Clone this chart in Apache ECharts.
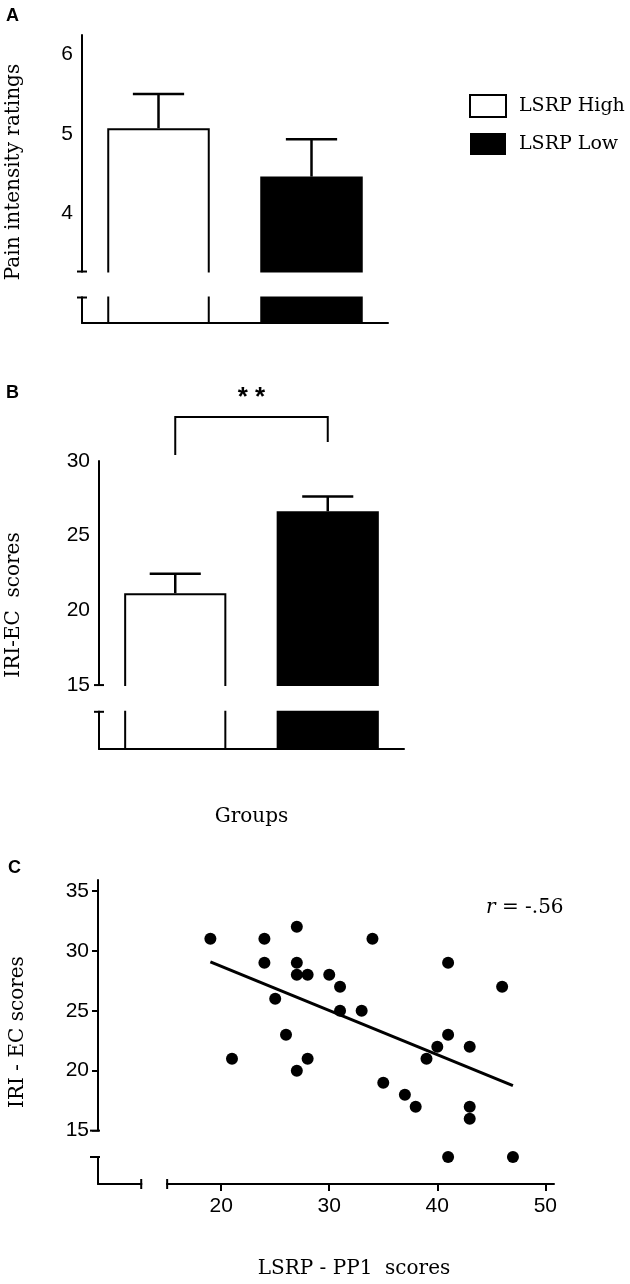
<!DOCTYPE html>
<html>
<head>
<meta charset="utf-8">
<script src="https://cdn.jsdelivr.net/npm/echarts@6/dist/echarts.min.js"></script>
<style>
  html, body { margin: 0; padding: 0; background: #fff; }
  #chart { width: 630px; height: 1284px; }
</style>
</head>
<body>
<div id="chart"></div>
<script>
// ---------------- data ----------------
const groups = ['LSRP High', 'LSRP Low'];

// Panel A: pain intensity ratings (mean, SEM)
const painMean = [5.07, 4.46];
const painSem = [0.43, 0.47];
const painTicks = [4, 5, 6];

// Panel B: IRI-EC scores (mean, SEM)
const iriMean = [21.15, 26.63];
const iriSem = [1.30, 1.00];
const iriTicks = [15, 20, 25, 30];

// Panel C: scatter LSRP-PP1 vs IRI-EC
const ppScores = [19, 24, 24, 27, 27, 27, 28, 25, 30, 31, 31, 33, 34, 26, 21, 28, 27, 35, 37, 38, 39, 40, 41, 41, 43, 43, 43, 46, 41, 47];
const ecScores = [31, 31, 29, 32, 29, 28, 28, 26, 28, 27, 25, 25, 31, 23, 21, 21, 20, 19, 18, 17, 21, 22, 29, 23, 22, 17, 16, 27, 12.8, 12.8];
const fitX = [19, 47];
const fitY = [29.08, 18.75];
const corrXTicks = [20, 30, 40, 50];
const corrYTicks = [15, 20, 25, 30, 35];
const corrLabel = '-.56';

// ---------------- layout / style ----------------
const SERIF = '"DejaVu Serif", serif';
const SANS = '"Liberation Sans", Arial, sans-serif';
const gridA = { left: 82, top: 35, width: 306, height: 288 };
const gridB = { left: 99, top: 461, width: 305, height: 288 };
const gridC = { left: 95, top: 880, width: 459, height: 304 };
const axisLine = { show: true, onZero: false, lineStyle: { color: '#000', width: 2 } };
const tickLabel = { color: '#000', fontFamily: SANS, fontSize: 21, margin: 9 };
const nameStyle = { color: '#000', fontFamily: SERIF, fontSize: 20 };

function errRender(params, api) {
  const i = api.value(0), m = api.value(1), e = api.value(2);
  const p0 = api.coord([i, m]);
  const p1 = api.coord([i, m + e]);
  const half = api.size([1, 0])[0] * 0.67 * 0.25;
  const st = { stroke: '#000', lineWidth: 2.5 };
  return {
    type: 'group',
    children: [
      { type: 'line', shape: { x1: p0[0], y1: p0[1], x2: p1[0], y2: p1[1] }, style: st },
      { type: 'line', shape: { x1: p1[0] - half, y1: p1[1], x2: p1[0] + half, y2: p1[1] }, style: st }
    ]
  };
}

function barPair(xi, yi, means) {
  return [
    {
      name: groups[0], type: 'bar', xAxisIndex: xi, yAxisIndex: yi,
      data: [means[0], '-'], barWidth: '67%', barGap: '-100%',
      itemStyle: { color: '#fff', borderColor: '#000', borderWidth: 2 }, z: 3
    },
    {
      name: groups[1], type: 'bar', xAxisIndex: xi, yAxisIndex: yi,
      data: ['-', means[1]], barWidth: '67%', barGap: '-100%',
      itemStyle: { color: '#000' }, z: 3
    }
  ];
}

const chart = echarts.init(document.getElementById('chart'), null, { renderer: 'canvas' });

const option = {
  animation: false,
  backgroundColor: '#fff',
  grid: [gridA, gridB, gridC],
  legend: {
    orient: 'vertical', left: 464, top: 89,
    itemWidth: 36, itemHeight: 22, itemGap: 15,
    icon: 'rect', selectedMode: false,
    textStyle: { color: '#000', fontFamily: SERIF, fontSize: 19, padding: [0, 0, 0, 8] },
    data: [
      { name: groups[0], itemStyle: { color: '#fff', borderColor: '#000', borderWidth: 2 } },
      { name: groups[1], itemStyle: { color: '#000', borderWidth: 0 } }
    ]
  },
  xAxis: [
    {
      gridIndex: 0, type: 'category', data: groups,
      axisLine: axisLine,
      axisTick: { alignWithLabel: true, length: 9, lineStyle: { color: '#000', width: 2 } },
      axisLabel: { show: false }, splitLine: { show: false }
    },
    {
      gridIndex: 1, type: 'category', data: groups,
      axisLine: axisLine,
      axisTick: { alignWithLabel: true, length: 8, lineStyle: { color: '#000', width: 2 } },
      axisLabel: { show: false }, splitLine: { show: false },
      name: 'Groups', nameLocation: 'middle', nameGap: 58, nameTextStyle: nameStyle
    },
    {
      gridIndex: 2, type: 'value', min: 8.6, max: 50.8,
      axisLine: axisLine,
      axisTick: { customValues: corrXTicks, length: 7, lineStyle: { color: '#000', width: 2 } },
      axisLabel: Object.assign({}, tickLabel, { customValues: corrXTicks, margin: 12 }),
      splitLine: { show: false },
      name: 'LSRP - PP1  scores', nameLocation: 'middle', nameGap: 75,
      nameTextStyle: Object.assign({}, nameStyle, { padding: [0, 0, 0, 56] })
    }
  ],
  yAxis: [
    {
      gridIndex: 0, type: 'value', min: 2.617, max: 6.243,
      axisLine: axisLine,
      axisTick: { customValues: painTicks, length: 6, lineStyle: { color: '#000', width: 2 } },
      axisLabel: Object.assign({}, tickLabel, { customValues: painTicks }),
      splitLine: { show: false },
      name: 'Pain intensity ratings', nameLocation: 'middle', nameGap: 58,
      nameTextStyle: Object.assign({}, nameStyle, { padding: [0, 0, 0, 14] })
    },
    {
      gridIndex: 1, type: 'value', min: 10.72, max: 30,
      axisLine: axisLine,
      axisTick: { customValues: iriTicks, length: 6, lineStyle: { color: '#000', width: 2 } },
      axisLabel: Object.assign({}, tickLabel, { customValues: iriTicks }),
      splitLine: { show: false },
      name: 'IRI-EC  scores', nameLocation: 'middle', nameGap: 75, nameTextStyle: nameStyle
    },
    {
      gridIndex: 2, type: 'value', min: 10.55, max: 35.9,
      axisLine: axisLine,
      axisTick: { customValues: corrYTicks, length: 6, lineStyle: { color: '#000', width: 2 } },
      axisLabel: Object.assign({}, tickLabel, { customValues: corrYTicks }),
      splitLine: { show: false },
      name: 'IRI - EC scores', nameLocation: 'middle', nameGap: 70, nameTextStyle: nameStyle
    }
  ],
  series: [
    ...barPair(0, 0, painMean),
    {
      name: 'painSEM', type: 'custom', xAxisIndex: 0, yAxisIndex: 0, z: 4,
      renderItem: errRender, encode: { x: 0, y: 1 },
      data: groups.map((g, i) => [i, painMean[i], painSem[i]])
    },
    ...barPair(1, 1, iriMean),
    {
      name: 'iriSEM', type: 'custom', xAxisIndex: 1, yAxisIndex: 1, z: 4,
      renderItem: errRender, encode: { x: 0, y: 1 },
      data: groups.map((g, i) => [i, iriMean[i], iriSem[i]])
    },
    {
      name: 'participants', type: 'scatter', xAxisIndex: 2, yAxisIndex: 2,
      symbol: 'circle', symbolSize: 12, itemStyle: { color: '#000', opacity: 1 }, z: 5,
      data: ppScores.map((x, i) => [x, ecScores[i]])
    },
    {
      name: 'fit', type: 'line', xAxisIndex: 2, yAxisIndex: 2, showSymbol: false, symbol: 'none',
      lineStyle: { color: '#000', width: 3 }, z: 4,
      data: fitX.map((x, i) => [x, fitY[i]])
    }
  ]
};
chart.setOption(option);

// ---------------- decorations: axis breaks, bracket, panel letters ----------------
const yPx = (ai, v) => chart.convertToPixel({ yAxisIndex: ai }, v);
const xPx = (ai, v) => chart.convertToPixel({ xAxisIndex: ai }, v);
const LINE = { stroke: '#000', lineWidth: 2 };
const g = [];

function hBreak(ai, grid, vTop, vBot) {
  const y1 = yPx(ai, vTop), y2 = yPx(ai, vBot);
  g.push({ type: 'rect', z: 100, shape: { x: grid.left - 7, y: y1 + 1, width: grid.width + 10, height: y2 - y1 - 2 }, style: { fill: '#fff' } });
  g.push({ type: 'line', z: 101, shape: { x1: grid.left - 5, y1: y1, x2: grid.left + 5, y2: y1 }, style: LINE });
  g.push({ type: 'line', z: 101, shape: { x1: grid.left - 5, y1: y2, x2: grid.left + 5, y2: y2 }, style: LINE });
}
hBreak(0, gridA, 3.265, 2.938);
hBreak(1, gridB, 15, 13.21);

// panel C: y break (axis only) and x break
(function () {
  const y1 = yPx(2, 15), y2 = yPx(2, 12.8);
  const ax = gridC.left;
  g.push({ type: 'rect', z: 100, shape: { x: ax - 7, y: y1 + 1, width: 14, height: y2 - y1 - 2 }, style: { fill: '#fff' } });
  g.push({ type: 'line', z: 101, shape: { x1: ax - 5, y1: y1, x2: ax + 5, y2: y1 }, style: LINE });
  g.push({ type: 'line', z: 101, shape: { x1: ax - 5, y1: y2, x2: ax + 5, y2: y2 }, style: LINE });
  const x1 = xPx(2, 12.6), x2 = xPx(2, 15);
  const ay = gridC.top + gridC.height;
  g.push({ type: 'rect', z: 100, shape: { x: x1 + 1, y: ay - 7, width: x2 - x1 - 2, height: 14 }, style: { fill: '#fff' } });
  g.push({ type: 'line', z: 101, shape: { x1: x1, y1: ay - 5, x2: x1, y2: ay + 5 }, style: LINE });
  g.push({ type: 'line', z: 101, shape: { x1: x2, y1: ay - 5, x2: x2, y2: ay + 5 }, style: LINE });
})();

// significance bracket in panel B
(function () {
  const xl = xPx(1, groups[0]), xr = xPx(1, groups[1]);
  const yTop = 417;
  g.push({ type: 'polyline', z: 101, shape: { points: [[xl, 455], [xl, yTop], [xr, yTop], [xr, 442]] }, style: { stroke: '#000', lineWidth: 2, fill: null } });
  g.push({ type: 'text', z: 101, style: { text: '* *', x: (xl + xr) / 2, y: 398, align: 'center', verticalAlign: 'middle', font: 'bold 26px ' + SANS, fill: '#000' } });
})();

// panel letters
[['A', 6, 16], ['B', 6, 393], ['C', 8, 868]].forEach(([t, x, y]) => {
  g.push({ type: 'text', z: 101, style: { text: t, x: x, y: y, align: 'left', verticalAlign: 'middle', font: 'bold 18px ' + SANS, fill: '#000' } });
});

// correlation annotation
g.push({
  type: 'text', z: 101,
  style: {
    text: '{i|r} = ' + corrLabel, x: 486, y: 908, align: 'left', verticalAlign: 'middle',
    fontFamily: SERIF, fontSize: 20, fill: '#000',
    rich: { i: { fontStyle: 'italic', fontFamily: SERIF, fontSize: 20, fill: '#000' } }
  }
});

chart.setOption({ graphic: g });
</script>
</body>
</html>
